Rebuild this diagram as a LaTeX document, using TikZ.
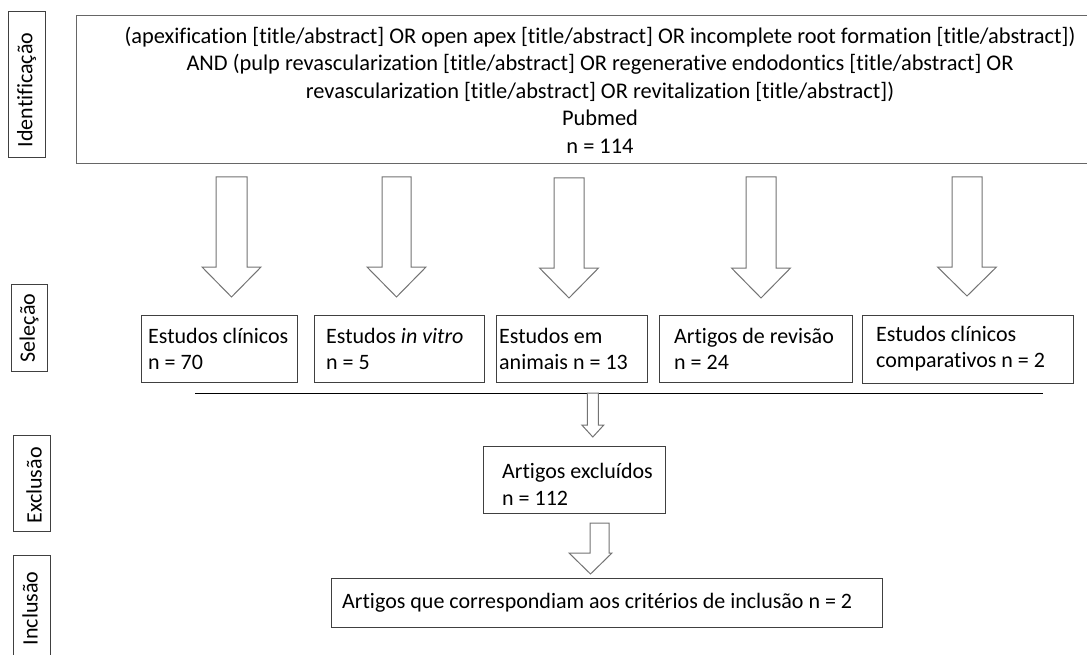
\documentclass[tikz,border=0pt]{standalone}
\usepackage{fontspec}
\setmainfont{Carlito}[Ligatures=NoCommon]
\newcommand\bArrow[6]{% cx, top, base, tip, shafthalf, headhalf
  \draw[barrow] (#1-#5,#2) -- (#1+#5,#2) -- (#1+#5,#3) -- (#1+#6,#3) -- (#1,#4) -- (#1-#6,#3) -- (#1-#5,#3) -- cycle;}
\begin{document}
\begin{tikzpicture}[x=1pt,y=-1pt,
  box/.style={draw=black!75, line width=1pt, inner sep=0pt},
  topbox/.style={draw=black!60, line width=1.2pt, inner sep=0pt},
  txt/.style={inner sep=0pt, align=left, font=\fontsize{22}{26.5}\selectfont},
  sidetxt/.style={inner sep=0pt, rotate=90, font=\fontsize{22}{26.5}\selectfont},
  barrow/.style={draw=black!55, line width=1pt, fill=white, line join=miter},
]
\useasboundingbox (0,0) rectangle (1087,655);

% side labels
\node[box, rotate=90, minimum width=146pt, minimum height=37pt] (lid) at (26.5,85) {};
\node[sidetxt] (tid) at (26.7,90) {Identificação};
\node[box, rotate=90, minimum width=87pt, minimum height=36pt] (lsel) at (29,327.5) {};
\node[sidetxt] (tsel) at (29,328) {Seleção};
\node[box, rotate=90, minimum width=96pt, minimum height=37pt] (lexc) at (31.5,483) {};
\node[sidetxt] (texc) at (34,485.5) {Exclusão};
\node[box, rotate=90, minimum width=120pt, minimum height=37pt] (linc) at (31.5,615) {};
\node[sidetxt] (tinc) at (30,608.5) {Inclusão};

% top box
\node[topbox, anchor=north west, minimum width=1020pt, minimum height=148pt] (top) at (76,15) {};
\node[inner sep=0pt, align=center, font=\fontsize{22.4}{27.5}\selectfont] (q) at (600,90)
{(apexification [title/abstract] OR open apex [title/abstract] OR incomplete root formation [title/abstract])\\
AND (pulp revascularization [title/abstract] OR regenerative endodontics [title/abstract] OR\\
revascularization [title/abstract] OR revitalization [title/abstract])\\
Pubmed\\
n = 114};

% big arrows
\bArrow{231.5}{177}{267}{297}{15.5}{29.5}
\bArrow{396.5}{177}{267}{297}{14.5}{29.5}
\bArrow{569}{178}{268}{298}{15}{29.5}
\bArrow{761}{177}{268}{298}{15}{29.5}
\bArrow{967}{177}{267}{296}{15}{29.5}

% selection boxes
\node[box, anchor=north west, minimum width=156pt, minimum height=67pt] (b1) at (141,315) {};
\node[txt, anchor=west] (t1) at (148,349) {Estudos clínicos\\n = 70};
\node[box, anchor=north west, minimum width=170pt, minimum height=67pt] (b2) at (314,315) {};
\node[txt, anchor=west] (t2) at (326,349) {Estudos \textit{in vitro}\\n = 5};
\node[box, anchor=north west, minimum width=151pt, minimum height=67pt] (b3) at (496,315) {};
\node[txt, anchor=west] (t3) at (499,349) {Estudos em\\animais n = 13};
\node[box, anchor=north west, minimum width=193pt, minimum height=67pt] (b4) at (659,315) {};
\node[txt, anchor=west] (t4) at (674,349) {Artigos de revisão\\n = 24};
\node[box, anchor=north west, minimum width=211pt, minimum height=68pt] (b5) at (862,315) {};
\node[txt, anchor=west] (t5) at (876,348.5) {Estudos clínicos\\comparativos n = 2};

% separator line
\coordinate (l1) at (195,393);
\coordinate (l2) at (1043,393);
\draw[black, line width=1pt] (l1) -- (l2);

% small arrow to exclusion
\bArrow{592.8}{393}{425}{437}{5.5}{11}

% exclusion box
\node[box, anchor=north west, minimum width=182pt, minimum height=67pt] (ex) at (483,446) {};
\node[txt, anchor=west] (tex) at (502,484.5) {Artigos excluídos\\n = 112};

% arrow to inclusion
\draw[barrow] (590,523) -- (609,523) -- (609,553) -- (612,553) -- (590.5,574) -- (569,553) -- (590,553) -- cycle;

% inclusion box
\node[box, anchor=north west, minimum width=551pt, minimum height=49pt] (inc) at (331,578) {};
\node[txt, anchor=west] (tinc2) at (342,603) {Artigos que correspondiam aos critérios de inclusão n = 2};
\end{tikzpicture}
\end{document}
